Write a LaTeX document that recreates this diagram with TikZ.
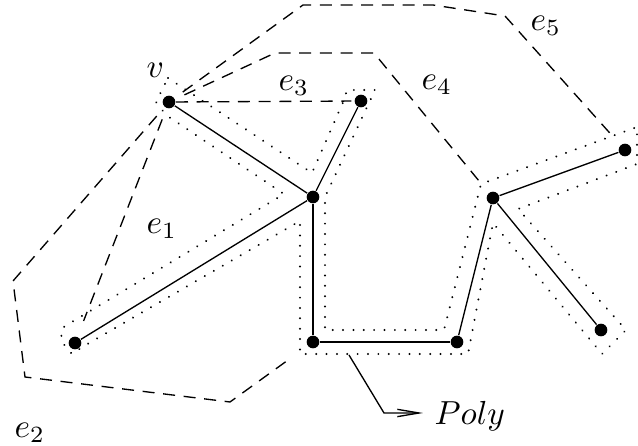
\documentclass[tikz,border=0pt]{standalone}
\usetikzlibrary{arrows.meta,calc}
\begin{document}
\begin{tikzpicture}[x=0.3pt,y=-0.3pt,
  dot/.style={circle,fill=black,inner sep=0pt,minimum size=3.8pt},
  edge/.style={line width=0.4pt},
  hyper/.style={line width=0.4pt,dash pattern=on 3.6pt off 2.6pt},
  buffer/.style={line width=0.65pt,dash pattern=on 0.01pt off 3.1pt,line cap=round},
  lab/.style={font=\fontsize{10}{12}\selectfont,inner sep=0pt,anchor=base west}]
\useasboundingbox (0,0) rectangle (638,446);

% vertices
\node[dot] (v)   at (169,102) {};
\node[dot] (t)   at (361,101) {};
\node[dot] (c)   at (313,197) {};
\node[dot] (bl)  at (75,343) {};
\node[dot] (bml) at (313,342) {};
\node[dot] (bmr) at (457,342) {};
\node[dot] (rm)  at (493,198) {};
\node[dot] (rt)  at (625,150) {};
\node[dot] (rb)  at (601,330) {};

% tree edges
\draw[edge] (v) -- (c);
\draw[edge] (t) -- (c);
\draw[edge] (c) -- (bl);
\draw[edge] (c) -- (bml);
\draw[edge] (bml) -- (bmr);
\draw[edge] (bmr) -- (rm);
\draw[edge] (rm) -- (rt);
\draw[edge] (rm) -- (rb);

% dotted outline (Poly)
\draw[buffer] (168,78) -- (312,173) -- (344,100) -- (347,90) -- (375,90) -- (325,197)
  -- (325,330) -- (444,330) -- (481,184) -- (637,127) -- (637,164) -- (518,209)
  -- (626,330) -- (602,354) -- (493,223) -- (468,354) -- (300,354) -- (300,221)
  -- (84,346) -- (72,354) -- (61,341) -- (62,328) -- (284,194) -- (166,115)
  -- (156,102) -- cycle;

% hyperedges
\draw[hyper,shorten <=3.5pt,shorten >=5pt] (v) -- (bl);
\draw[hyper,shorten <=3.5pt,shorten >=5.5pt] (v) -- (13,281) -- (25,377) -- (230,402) -- (bml);
\draw[hyper,shorten >=0.8pt] (v) -- (t);
\draw[hyper,shorten <=3pt,shorten >=3pt] (v) -- (275,53) -- (374,53) -- (rm);
\draw[hyper,shorten <=3pt,shorten >=3.5pt] (v) -- (303,5) -- (433,5) -- (505,16) -- (rt);

% labels
\node[lab] (lv)  at (146,78)  {$v$};
\node[lab] (le1) at (146,234) {$e_1$};
\node[lab] (le2) at (14,438)  {$e_2$};
\node[lab] (le3) at (278,91)  {$e_3$};
\node[lab] (le4) at (421,90)  {$e_4$};
\node[lab] (le5) at (530,31)  {$e_5$};
\node[lab] (poly) at (434,425) {$Poly$};

% Poly pointer
\coordinate (pa) at (349,355);
\coordinate (pb) at (384,413);
\draw[edge,-{Straight Barb[length=6.5pt,width=2.2pt]}] (pa) -- (pb) -- ($(pb -| poly.west)+(-11,0)$);
\end{tikzpicture}
\end{document}
